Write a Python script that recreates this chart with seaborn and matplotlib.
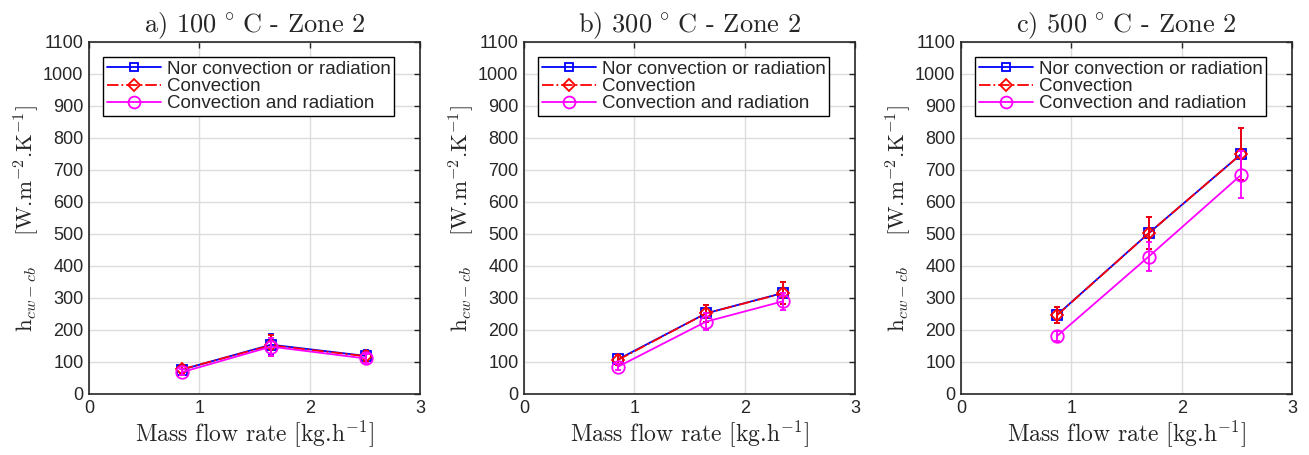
import numpy as np
import pandas as pd
import matplotlib
matplotlib.use("Agg")
import matplotlib.pyplot as plt
import seaborn as sns
from matplotlib.lines import Line2D

sns.set_theme(style="whitegrid")
plt.rcParams["font.family"] = ["Liberation Sans", "DejaVu Sans"]
plt.rcParams["mathtext.fontset"] = "cm"

# ---- data ----
titles = ["a) 100$\\,^\\circ\\,$C - Zone 2", "b) 300$\\,^\\circ\\,$C - Zone 2", "c) 500$\\,^\\circ\\,$C - Zone 2"]
series_names = ["Nor convection or radiation", "Convection", "Convection and radiation"]

x_a = [0.84, 1.65, 2.51]
none_a = [76, 154, 119]
conv_a = [77, 152, 118]
rad_a = [68, 148, 111]
err_conv_a = [12, 32, 17]
err_rad_a = [10, 28, 15]

x_b = [0.85, 1.65, 2.35]
none_b = [108, 252, 316]
conv_b = [106, 252, 315]
rad_b = [85, 226, 290]
err_conv_b = [15, 26, 35]
err_rad_b = [10, 26, 27]

x_c = [0.87, 1.70, 2.54]
none_c = [247, 502, 750]
conv_c = [246, 502, 750]
rad_c = [181, 429, 685]
err_conv_c = [25, 50, 80]
err_rad_c = [15, 45, 73]

panels = [
    (x_a, none_a, conv_a, rad_a, err_conv_a, err_rad_a),
    (x_b, none_b, conv_b, rad_b, err_conv_b, err_rad_b),
    (x_c, none_c, conv_c, rad_c, err_conv_c, err_rad_c),
]

colors = ["#0000ff", "#ff0000", "#ff00ff"]
markers = ["s", "D", "o"]
styles = ["-", "-.", "-"]
msizes = [6.5, 6.5, 9]

fig = plt.figure(figsize=(13.09, 4.55), dpi=100)
lefts = [89, 524, 961]
serif = dict(fontfamily="cmr10")

for i, (x, s0, s1, s2, e1, e2) in enumerate(panels):
    ax = fig.add_axes([lefts[i] / 1309, 1 - 394 / 455, 331 / 1309, 352 / 455])
    ys = [s0, s1, s2]
    errs = [e1, e1, e2]
    for k in range(3):
        df = pd.DataFrame({"x": x, "y": ys[k]})
        ax.errorbar(x, ys[k], yerr=errs[k], fmt="none", ecolor=colors[k],
                    elinewidth=1.3, capsize=2, capthick=1.3, zorder=2 + k)
        sns.lineplot(data=df, x="x", y="y", ax=ax, color=colors[k], marker=markers[k],
                     linestyle=styles[k], lw=1.3, ms=msizes[k], mfc="none",
                     mec=colors[k], mew=1.3, sort=False, errorbar=None, zorder=2 + k)
    ax.set_xlim(0, 3)
    ax.set_ylim(0, 1100)
    ax.set_xticks([0, 1, 2, 3])
    ax.set_yticks(np.arange(0, 1101, 100))
    ax.grid(True, color="#dcdcdc", lw=1.0)
    ax.set_facecolor("white")
    for sp in ax.spines.values():
        sp.set_color("#262626")
        sp.set_linewidth(1.2)
    ax.tick_params(direction="in", top=True, right=True, length=4, width=1,
                   labelsize=13, colors="#262626", pad=4)
    ax.set_title(titles[i], fontsize=19, pad=7, **serif)
    ax.set_xlabel("Mass flow rate [kg.h$^{-1}$]", fontsize=17, labelpad=1, **serif)
    ax.set_ylabel("h$_{cw-cb}$    [W.m$^{-2}$.K$^{-1}$]", fontsize=16.5, labelpad=1, **serif)
    handles = [Line2D([], [], color=colors[k], marker=markers[k], linestyle=styles[k],
                      lw=1.3, ms=msizes[k] - 0.5, mfc="none", mec=colors[k], mew=1.3)
               for k in range(3)]
    leg = ax.legend(handles, series_names, loc="upper left", bbox_to_anchor=(0.042, 0.957),
                    borderaxespad=0, fontsize=13.5, handlelength=2.9, handletextpad=0.3,
                    labelspacing=0.0, borderpad=0.2, frameon=True, fancybox=False)
    leg.get_frame().set_edgecolor("black")
    leg.get_frame().set_linewidth(1.0)
    leg.get_frame().set_alpha(1)

plt.savefig("out.png", dpi=100)
